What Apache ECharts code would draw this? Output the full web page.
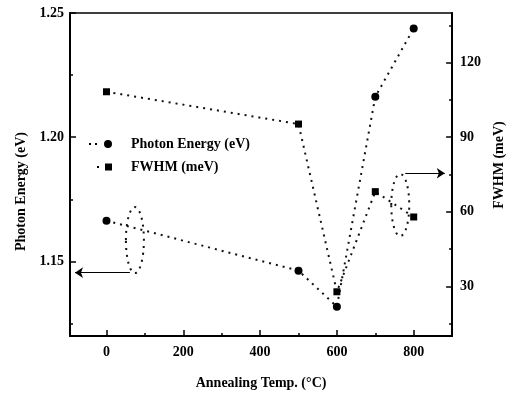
<!DOCTYPE html>
<html>
<head>
<meta charset="utf-8">
<script src="https://cdn.jsdelivr.net/npm/echarts@6/dist/echarts.min.js"></script>
<style>
  html, body { margin: 0; padding: 0; background: #fff; }
  #chart { width: 514px; height: 399px; }
</style>
</head>
<body>
<div id="chart"></div>
<script>
// annealing temperatures (C)
const temps = [0, 500, 600, 700, 800];
// photon energy (eV), left axis
const photonEnergy = [1.1664, 1.1463, 1.1318, 1.2163, 1.2438];
// FWHM (meV), right axis
const fwhm = [108.3, 95.3, 27.8, 68.1, 57.9];

const xTicks = [0, 200, 400, 600, 800];
const xMinor = [100, 300, 500, 700];
const leftTicks = [1.15, 1.20, 1.25];
const leftMinor = [1.125, 1.175, 1.225];
const rightTicks = [30, 60, 90, 120];
const rightMinor = [15, 45, 75, 105, 135];

// arrows pointing at the axis each curve belongs to: [from, to]
const photonArrow = [[61, 1.1455], [-82, 1.1455]];
const fwhmArrow = [[778, 75.5], [881, 75.5]];
// curl loops at the arrow tails (data-space centres)
const photonCurl = [74, 1.1586];
const fwhmCurl = [765, 62.7];

const font = { fontFamily: 'Liberation Serif', fontWeight: 'bold', fontSize: 14, color: '#000' };
const dots = { color: '#111', width: 2, type: [2, 5] };

const chart = echarts.init(document.getElementById('chart'));

function mainAxis(extra) {
  return Object.assign({
    type: 'value',
    axisLine: { show: true, onZero: false, lineStyle: { color: '#000', width: 2 } },
    axisLabel: Object.assign({ show: true }, font),
    splitLine: { show: false },
    nameTextStyle: font
  }, extra);
}
function minorAxis(extra) {
  return Object.assign({
    type: 'value',
    axisLine: { show: false, onZero: false },
    axisLabel: { show: false },
    splitLine: { show: false }
  }, extra);
}
function ticks(len, values) {
  return { show: true, inside: true, length: len, customValues: values, lineStyle: { color: '#000', width: 1.5 } };
}

const option = {
  animation: false,
  backgroundColor: '#fff',
  grid: { left: 70, right: 61, top: 13, bottom: 63, show: true, borderColor: '#000', borderWidth: 1.5 },
  legend: [
    {
      data: [{ name: 'Photon Energy (eV)', icon: 'path://M0,3h2v2h-2z M6,3h2v2h-2z M15,4a4,4 0 1,0 8,0a4,4 0 1,0 -8,0z' }],
      left: 84, top: 132, itemWidth: 23, itemHeight: 8,
      textStyle: Object.assign({ padding: [0, 0, 0, 14] }, font)
    },
    {
      data: [{ name: 'FWHM (meV)', icon: 'path://M0,2.5h2v2h-2z M8,0h7v7h-7z' }],
      left: 92, top: 155, itemWidth: 15, itemHeight: 7,
      textStyle: Object.assign({ padding: [0, 0, 0, 14] }, font)
    }
  ],
  xAxis: [
    mainAxis({
      min: -95, max: 900, position: 'bottom',
      axisTick: ticks(6, xTicks),
      axisLabel: Object.assign({ customValues: xTicks, margin: 9 }, font),
      name: 'Annealing Temp. (°C)', nameLocation: 'middle', nameGap: 40
    }),
    minorAxis({ min: -95, max: 900, position: 'bottom', axisTick: ticks(3, xMinor) })
  ],
  yAxis: [
    mainAxis({
      min: 1.12, max: 1.25, position: 'left',
      axisTick: ticks(6, leftTicks),
      axisLabel: Object.assign({ customValues: leftTicks, margin: 6, formatter: v => v.toFixed(2) }, font),
      name: 'Photon Energy (eV)', nameLocation: 'middle', nameGap: 42, nameRotate: 90,
      nameTextStyle: Object.assign({ padding: [0, 34, 0, 0] }, font)
    }),
    minorAxis({ min: 1.12, max: 1.25, position: 'left', axisTick: ticks(3, leftMinor) }),
    mainAxis({
      min: 10, max: 140, position: 'right',
      axisTick: ticks(6, rightTicks),
      axisLabel: Object.assign({ customValues: rightTicks, margin: 8 }, font),
      name: 'FWHM (meV)', nameLocation: 'middle', nameGap: 39, nameRotate: 90,
      nameTextStyle: Object.assign({ padding: [0, 0, 0, 19] }, font)
    }),
    minorAxis({ min: 10, max: 140, position: 'right', axisTick: ticks(3, rightMinor) })
  ],
  series: [
    {
      name: 'Photon Energy (eV)',
      type: 'line',
      xAxisIndex: 0, yAxisIndex: 0,
      data: temps.map((t, i) => [t, photonEnergy[i]]),
      symbol: 'circle', symbolSize: 8,
      itemStyle: { color: '#000' },
      lineStyle: dots,
      markLine: {
        silent: true, symbol: ['none', 'arrow'], symbolSize: 8,
        lineStyle: { color: '#000', width: 1.2, type: 'solid' },
        label: { show: false },
        data: [[{ coord: photonArrow[0] }, { coord: photonArrow[1] }]]
      }
    },
    {
      name: 'FWHM (meV)',
      type: 'line',
      xAxisIndex: 0, yAxisIndex: 2,
      data: temps.map((t, i) => [t, fwhm[i]]),
      symbol: 'rect', symbolSize: 7,
      itemStyle: { color: '#000' },
      lineStyle: dots,
      markLine: {
        silent: true, symbol: ['none', 'arrow'], symbolSize: 8,
        lineStyle: { color: '#000', width: 1.2, type: 'solid' },
        label: { show: false },
        data: [[{ coord: fwhmArrow[0] }, { coord: fwhmArrow[1] }]]
      }
    }
  ]
};

chart.setOption(option);

// dotted curls at the arrow tails
const c1 = chart.convertToPixel({ seriesIndex: 0 }, photonCurl);
const c2 = chart.convertToPixel({ seriesIndex: 1 }, fwhmCurl);
const curlStyle = { fill: null, stroke: '#111', lineWidth: 2, lineDash: [2, 5] };
chart.setOption({
  graphic: [
    { type: 'ellipse', shape: { cx: c1[0], cy: c1[1], rx: 9, ry: 33 }, style: curlStyle, silent: true },
    { type: 'ellipse', shape: { cx: c2[0], cy: c2[1], rx: 9, ry: 31 }, style: curlStyle, silent: true }
  ]
});
</script>
</body>
</html>
